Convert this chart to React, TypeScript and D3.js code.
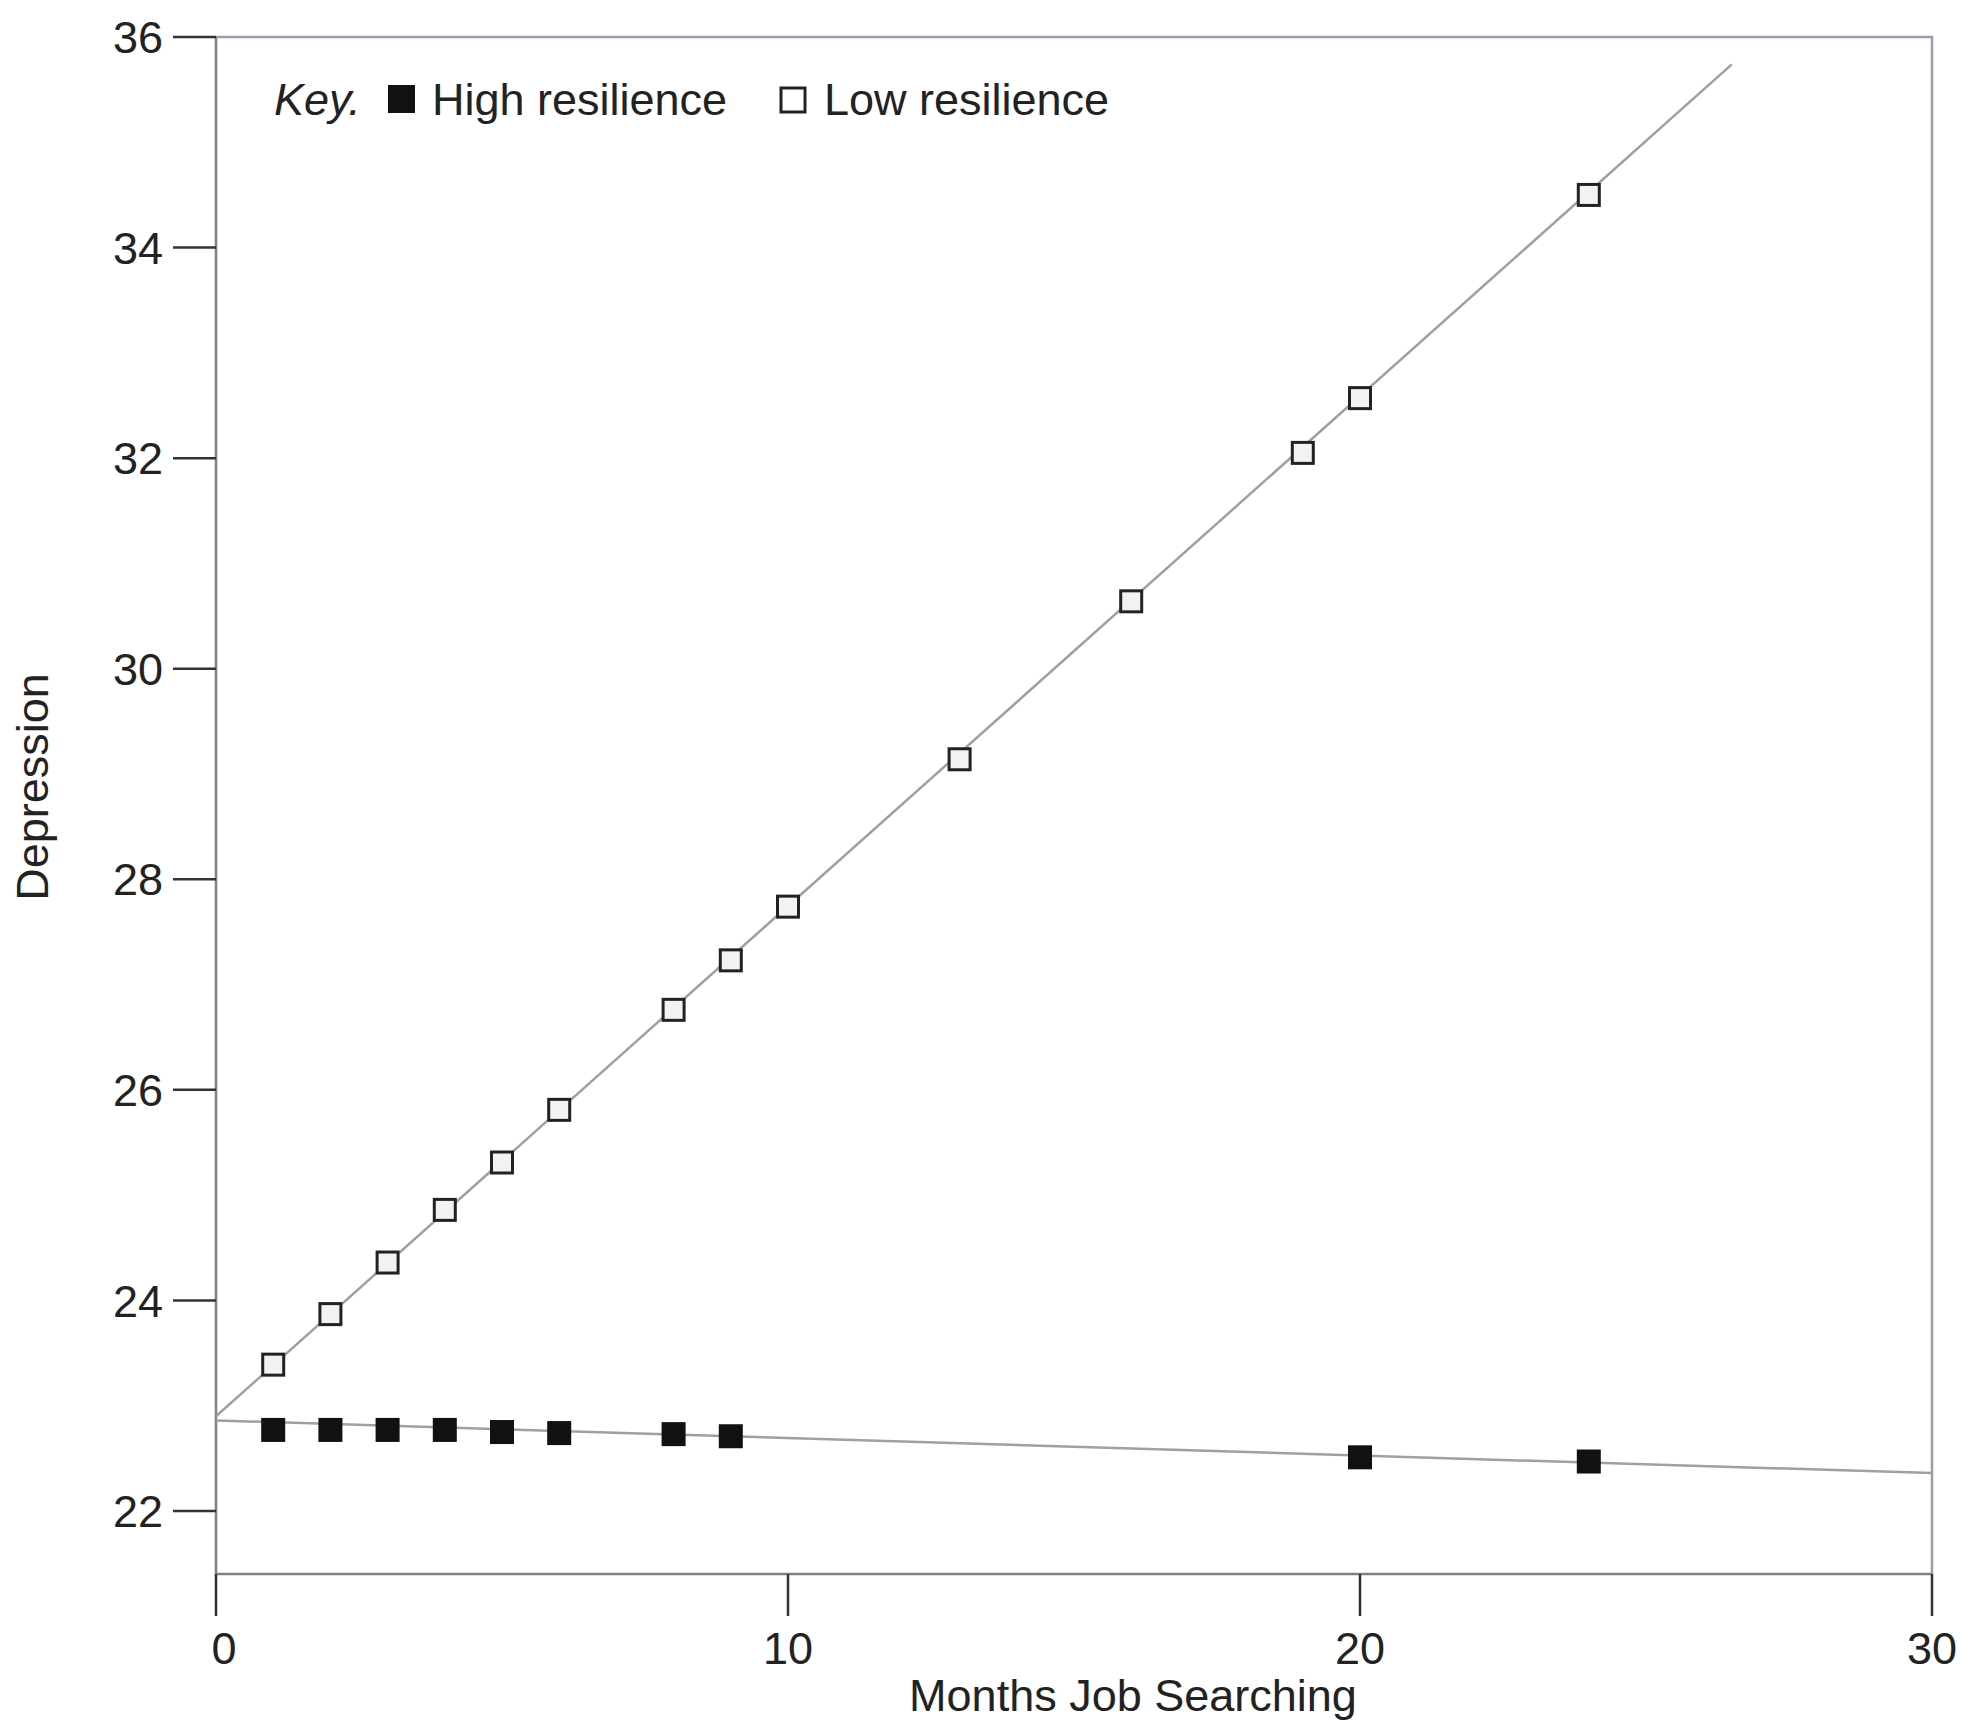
import React, { useEffect, useRef } from 'react';
import * as d3 from 'd3';

// Months job searching (x) and depression scores (y)
const lowMonths = [1, 2, 3, 4, 5, 6, 8, 9, 10, 13, 16, 19, 20, 24];
const lowDepression = [23.39, 23.87, 24.36, 24.86, 25.31, 25.81, 26.76, 27.23, 27.74, 29.14, 30.64, 32.05, 32.57, 34.5];
const highMonths = [1, 2, 3, 4, 5, 6, 8, 9, 20, 24];
const highDepression = [22.77, 22.77, 22.77, 22.77, 22.75, 22.74, 22.73, 22.71, 22.51, 22.47];

// fitted lines (end points)
const lowFitMonths = [0, 26.5];
const lowFitDepression = [22.9, 35.74];
const highFitMonths = [0, 30];
const highFitDepression = [22.86, 22.36];

const xTicks = [0, 10, 20, 30];
const yTicks = [22, 24, 26, 28, 30, 32, 34, 36];

const App = () => {
  const chartRef = useRef<SVGSVGElement>(null);

  useEffect(() => {
    const width = 1974;
    const height = 1722;
    const left = 216;
    const right = 1932;
    const top = 37;
    const bottom = 1574;
    const font = '"Liberation Sans", Arial, Helvetica, sans-serif';
    const fontSize = 45;

    const svg = d3.select(chartRef.current);
    svg.selectAll('*').remove();
    svg.attr('width', width).attr('height', height);

    svg.append('rect').attr('width', width).attr('height', height).attr('fill', '#fff');

    const x = d3.scaleLinear().domain([0, 30]).range([left, right]);
    const y = d3.scaleLinear().domain([22, 36]).range([1511, top]);

    // frame
    svg.append('path')
      .attr('d', `M${left},${top}H${right}V${bottom}`)
      .attr('fill', 'none')
      .attr('stroke', '#9c9cac')
      .attr('stroke-width', 2.5);
    svg.append('path')
      .attr('d', `M${left},${top}V${bottom}H${right}`)
      .attr('fill', 'none')
      .attr('stroke', '#808088')
      .attr('stroke-width', 2.5);

    // y axis
    const yAxis = svg.append('g');
    yAxis.selectAll('line')
      .data(yTicks)
      .enter()
      .append('line')
      .attr('x1', left - 43)
      .attr('x2', left)
      .attr('y1', d => y(d))
      .attr('y2', d => y(d))
      .attr('stroke', '#333')
      .attr('stroke-width', 2.5);
    yAxis.selectAll('text')
      .data(yTicks)
      .enter()
      .append('text')
      .attr('x', left - 53)
      .attr('y', d => y(d))
      .attr('dy', '0.36em')
      .attr('text-anchor', 'end')
      .attr('font-family', font)
      .attr('font-size', fontSize)
      .attr('fill', '#222')
      .text(d => d);

    // x axis
    const xAxis = svg.append('g');
    xAxis.selectAll('line')
      .data(xTicks)
      .enter()
      .append('line')
      .attr('x1', d => x(d))
      .attr('x2', d => x(d))
      .attr('y1', bottom)
      .attr('y2', bottom + 42)
      .attr('stroke', '#333')
      .attr('stroke-width', 2.5);
    xAxis.selectAll('text')
      .data(xTicks)
      .enter()
      .append('text')
      .attr('x', d => x(d) + (d === 0 ? 8 : 0))
      .attr('y', bottom + 90)
      .attr('text-anchor', 'middle')
      .attr('font-family', font)
      .attr('font-size', fontSize)
      .attr('fill', '#222')
      .text(d => d);

    svg.append('text')
      .attr('x', 1133)
      .attr('y', 1711)
      .attr('text-anchor', 'middle')
      .attr('font-family', font)
      .attr('font-size', fontSize)
      .attr('fill', '#222')
      .text('Months Job Searching');

    svg.append('text')
      .attr('transform', `translate(48,787) rotate(-90)`)
      .attr('text-anchor', 'middle')
      .attr('font-family', font)
      .attr('font-size', fontSize)
      .attr('fill', '#222')
      .text('Depression');

    // fitted lines
    const line = d3.line<[number, number]>()
      .x(d => x(d[0]))
      .y(d => y(d[1]));

    svg.append('path')
      .attr('d', line(lowFitMonths.map((m, i) => [m, lowFitDepression[i]]) as [number, number][]))
      .attr('fill', 'none')
      .attr('stroke', '#a0a0a0')
      .attr('stroke-width', 2.5);
    svg.append('path')
      .attr('d', line(highFitMonths.map((m, i) => [m, highFitDepression[i]]) as [number, number][]))
      .attr('fill', 'none')
      .attr('stroke', '#a0a0a0')
      .attr('stroke-width', 2.5);

    // low resilience: open squares
    const s = 21;
    svg.append('g')
      .selectAll('rect')
      .data(lowMonths)
      .enter()
      .append('rect')
      .attr('x', d => x(d) - s / 2)
      .attr('y', (_, i) => y(lowDepression[i]) - s / 2)
      .attr('width', s)
      .attr('height', s)
      .attr('fill', '#f2f2f2')
      .attr('stroke', '#222')
      .attr('stroke-width', 3);

    // high resilience: filled squares
    const f = 24;
    svg.append('g')
      .selectAll('rect')
      .data(highMonths)
      .enter()
      .append('rect')
      .attr('x', d => x(d) - f / 2)
      .attr('y', (_, i) => y(highDepression[i]) - f / 2)
      .attr('width', f)
      .attr('height', f)
      .attr('fill', '#111');

    // key
    const key = svg.append('g').attr('font-family', font).attr('font-size', fontSize).attr('fill', '#222');
    key.append('text').attr('x', 274).attr('y', 115).attr('font-style', 'italic').text('Key.');
    key.append('rect').attr('x', 388).attr('y', 85).attr('width', 27).attr('height', 28).attr('fill', '#111');
    key.append('text').attr('x', 432).attr('y', 115).text('High resilience');
    key.append('rect').attr('x', 781).attr('y', 88).attr('width', 24).attr('height', 24)
      .attr('fill', '#fff').attr('stroke', '#222').attr('stroke-width', 3);
    key.append('text').attr('x', 824).attr('y', 115).text('Low resilience');
  }, []);

  return <svg ref={chartRef} style={{ position: 'absolute', left: 0, top: 0 }}></svg>;
};

export default App;
